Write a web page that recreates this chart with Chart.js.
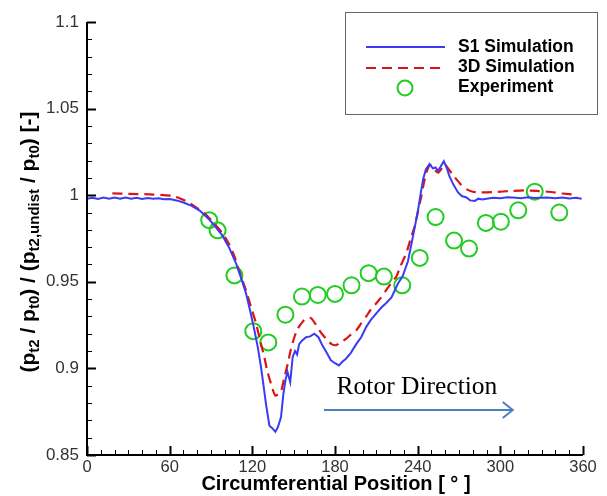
<!DOCTYPE html>
<html>
<head>
<meta charset="utf-8">
<script src="https://cdn.jsdelivr.net/npm/chart.js@4.4.0/dist/chart.umd.min.js"></script>
<style>
  body{margin:0;background:#fff;}
  #wrap{width:607px;height:496px;}
</style>
</head>
<body>
<div id="wrap"><canvas id="chart"></canvas></div>
<script>

// S1 simulation (blue solid)
const s1Deg = [0,4,8,12,16,20,24,28,32,36,40,44,48,52,56,60,65,70,76,82,88.7,93,98,103,108,111.5,115.4,118.5,121.5,124,126.3,128.3,130,132.4,134.5,136.7,138.5,140.8,142.5,144,145.5,147.5,149.3,151,152.5,154,156,159,162,165,168,171,174,177,180,182.8,185.5,188,191.5,195.4,199,202.7,206,210,213.5,217,221,225.7,229,233,236.6,238.5,240,242,244,246,248.7,251,253,254.8,257,259,261,263,266,269.3,272,275.4,278,281.5,284,287,290,295,300,305,309,315,320,325,333.6,340,345,350,355,359];
const s1Val = [0.998,0.9985,0.9978,0.9986,0.998,0.9987,0.9979,0.9986,0.998,0.9985,0.9978,0.9984,0.9979,0.9983,0.9977,0.9978,0.997,0.9958,0.9938,0.991,0.986,0.982,0.977,0.970,0.961,0.953,0.9434,0.933,0.922,0.912,0.9008,0.889,0.879,0.8669,0.8655,0.8634,0.866,0.8717,0.885,0.893,0.898,0.892,0.9066,0.910,0.908,0.914,0.916,0.918,0.9185,0.920,0.918,0.913,0.909,0.9047,0.903,0.9017,0.904,0.9056,0.909,0.914,0.918,0.924,0.928,0.9318,0.935,0.9376,0.941,0.949,0.953,0.962,0.9763,0.984,0.990,1.000,1.0093,1.015,1.018,1.0155,1.016,1.014,1.017,1.0196,1.016,1.011,1.006,1.0016,0.9995,0.9987,0.997,0.9967,0.998,0.9975,0.998,0.9985,0.9982,0.9988,0.9987,0.9982,0.9988,0.9984,0.9987,0.9983,0.9986,0.9981,0.9985,0.998];

// 3D simulation (red dashed)
const d3Deg = [18.4,30,45,62,68,74,80,86,92,98.4,103,107,111,115.4,119,122.7,126,128.7,131,133.6,136.7,140.8,143,145.7,148,150.5,153,156.6,159.5,162.6,165.5,168.7,171.5,174.8,177.5,180.8,184,188,191.5,195.4,199,202.7,206,210,213.5,217,221,224.5,227.5,231.8,235,237.8,240,242.7,244.5,246.3,249,252,254.8,257,259.6,262.5,267,271,275.4,280,285,295,309,318,326,335,345,355];
const d3Val = [1.001,1.0008,1.0005,0.9996,0.998,0.9957,0.9925,0.989,0.984,0.978,0.972,0.9647,0.955,0.945,0.9355,0.926,0.915,0.9066,0.898,0.891,0.8843,0.887,0.894,0.9027,0.911,0.918,0.923,0.927,0.929,0.929,0.926,0.922,0.919,0.916,0.914,0.9134,0.915,0.917,0.9195,0.922,0.926,0.930,0.934,0.9376,0.941,0.945,0.9495,0.953,0.959,0.9667,0.975,0.982,0.990,0.9996,1.007,1.013,1.0174,1.015,1.013,1.015,1.018,1.015,1.0103,1.0065,1.0035,1.002,1.0016,1.0018,1.0025,1.0028,1.0025,1.002,1.001,1.0002];

// Experiment (green circles)
const expDeg = [88.7,94.8,107,120.7,131.6,144,156,167.5,180,192,204.4,215.5,228.8,241.5,253,266.4,277.3,289.5,300.4,313,325,342.8];
const expVal = [0.9856,0.9797,0.9537,0.9215,0.915,0.931,0.9415,0.9424,0.943,0.948,0.955,0.953,0.948,0.9638,0.9874,0.9738,0.9692,0.984,0.9847,0.9913,1.002,0.990];

const xTickLabels = ["0","60","120","180","240","300","360"];
const yTickLabels = ["0.85","0.9","0.95","1","1.05","1.1"];

const toPoints = (xs, ys) => xs.map((x, i) => ({x: x, y: ys[i]}));

const BLUE = "#3b3bf4";
const RED = "#dc1414";
const GREEN = "#22cc22";
const SANS = "'Liberation Sans', Arial, sans-serif";

const decor = {
    id: "decor",
    afterDraw(chart){
        const c = chart.ctx;
        const xs = chart.scales.x;
        const ys = chart.scales.y;
        const a = chart.chartArea;
        c.save();

        // inward tick marks
        c.strokeStyle = "#000";
        for (let v = 0; v <= 360; v += 10){
            const px = Math.round(xs.getPixelForValue(v)) + 0.5;
            const len = v % 60 === 0 ? 9 : 5;
            c.lineWidth = v % 60 === 0 ? 2 : 1;
            c.beginPath();
            c.moveTo(px, a.bottom);
            c.lineTo(px, a.bottom - len);
            c.stroke();
        }
        for (let i = 0; i <= 25; i++){
            const v = 0.85 + i * 0.01;
            const py = Math.round(ys.getPixelForValue(v)) + 0.5;
            const len = i % 5 === 0 ? 9 : 5;
            c.lineWidth = i % 5 === 0 ? 2 : 1;
            c.beginPath();
            c.moveTo(a.left, py);
            c.lineTo(a.left + len, py);
            c.stroke();
        }

        // axis lines
        c.lineWidth = 2;
        c.beginPath();
        c.moveTo(a.left, a.top);
        c.lineTo(a.left, a.bottom);
        c.lineTo(a.right, a.bottom);
        c.stroke();

        // x title
        c.fillStyle = "#000";
        c.font = "bold 20px " + SANS;
        c.textAlign = "center";
        c.textBaseline = "middle";
        c.fillText("Circumferential Position [ ° ]", 336, 484);

        // y title with subscripts
        const parts = [
            ["(p", 0], ["t2", 1], [" / p", 0], ["t0", 1], [") / (p", 0],
            ["t2,undist", 1], [" / p", 0], ["t0", 1], [") [-]", 0]
        ];
        const big = "bold 21px " + SANS;
        const small = "bold 15px " + SANS;
        let total = 0;
        parts.forEach(p => { c.font = p[1] ? small : big; total += c.measureText(p[0]).width; });
        c.translate(28, 242);
        c.rotate(-Math.PI / 2);
        c.textAlign = "left";
        c.textBaseline = "alphabetic";
        let cx = -total / 2;
        parts.forEach(p => {
            c.font = p[1] ? small : big;
            c.fillText(p[0], cx, p[1] ? 11 : 7);
            cx += c.measureText(p[0]).width;
        });
        c.setTransform(1, 0, 0, 1, 0, 0);

        // rotor direction annotation
        c.font = "25.5px 'Liberation Serif', 'Times New Roman', serif";
        c.textAlign = "center";
        c.textBaseline = "middle";
        c.fillText("Rotor Direction", xs.getPixelForValue(239.5), ys.getPixelForValue(0.889));
        const ax0 = xs.getPixelForValue(172);
        const ax1 = xs.getPixelForValue(309);
        const ay = ys.getPixelForValue(0.876);
        c.strokeStyle = "#4a7fc1";
        c.lineWidth = 2;
        c.beginPath();
        c.moveTo(ax0, ay);
        c.lineTo(ax1, ay);
        c.moveTo(ax1 - 10, ay - 8);
        c.lineTo(ax1, ay);
        c.lineTo(ax1 - 10, ay + 8);
        c.stroke();

        // legend box
        c.strokeStyle = "#666";
        c.lineWidth = 1;
        c.fillStyle = "#fff";
        c.fillRect(345, 12, 252, 102);
        c.strokeRect(345.5, 12.5, 252, 102);
        c.lineWidth = 2;
        c.strokeStyle = BLUE;
        c.beginPath(); c.moveTo(366, 47); c.lineTo(445, 47); c.stroke();
        c.strokeStyle = RED;
        c.setLineDash([10, 6]);
        c.beginPath(); c.moveTo(366, 68); c.lineTo(445, 68); c.stroke();
        c.setLineDash([]);
        c.strokeStyle = GREEN;
        c.beginPath(); c.arc(405, 88, 7.5, 0, Math.PI * 2); c.stroke();
        c.fillStyle = "#000";
        c.font = "bold 17.5px " + SANS;
        c.textAlign = "left";
        c.textBaseline = "middle";
        c.fillText("S1 Simulation", 458, 47);
        c.fillText("3D Simulation", 458, 67);
        c.fillText("Experiment", 458, 87);

        c.restore();
    }
};

new Chart(document.getElementById("chart"), {
    type: "line",
    data: {
        datasets: [
            {
                label: "S1 Simulation",
                data: toPoints(s1Deg, s1Val),
                borderColor: BLUE,
                borderWidth: 2,
                pointRadius: 0,
                tension: 0,
                fill: false
            },
            {
                label: "3D Simulation",
                data: toPoints(d3Deg, d3Val),
                borderColor: RED,
                borderWidth: 2.2,
                borderDash: [10, 6],
                pointRadius: 0,
                tension: 0.2,
                fill: false
            },
            {
                label: "Experiment",
                data: toPoints(expDeg, expVal),
                showLine: false,
                pointRadius: 8,
                pointBorderWidth: 2,
                pointBorderColor: GREEN,
                pointBackgroundColor: "rgba(0,0,0,0)"
            }
        ]
    },
    options: {
        responsive: true,
        maintainAspectRatio: false,
        animation: false,
        layout: { padding: { top: 22, right: 24, left: 0, bottom: 0 } },
        plugins: {
            legend: { display: false },
            tooltip: { enabled: false }
        },
        scales: {
            x: {
                type: "linear",
                min: 0,
                max: 360,
                afterFit: s => { s.height = 41; },
                border: { display: false },
                grid: { display: false, drawTicks: false },
                ticks: {
                    stepSize: 60,
                    autoSkip: false,
                    maxRotation: 0,
                    padding: 3,
                    color: "#333",
                    font: { size: 16.5, family: SANS },
                    callback: (v, i) => xTickLabels[i]
                }
            },
            y: {
                min: 0.85,
                max: 1.1,
                afterFit: s => { s.width = 87; },
                border: { display: false },
                grid: { display: false, drawTicks: false },
                ticks: {
                    stepSize: 0.05,
                    autoSkip: false,
                    padding: 8,
                    color: "#333",
                    font: { size: 17, family: SANS },
                    callback: (v, i) => yTickLabels[i]
                }
            }
        }
    },
    plugins: [decor]
});
</script>
</body>
</html>
